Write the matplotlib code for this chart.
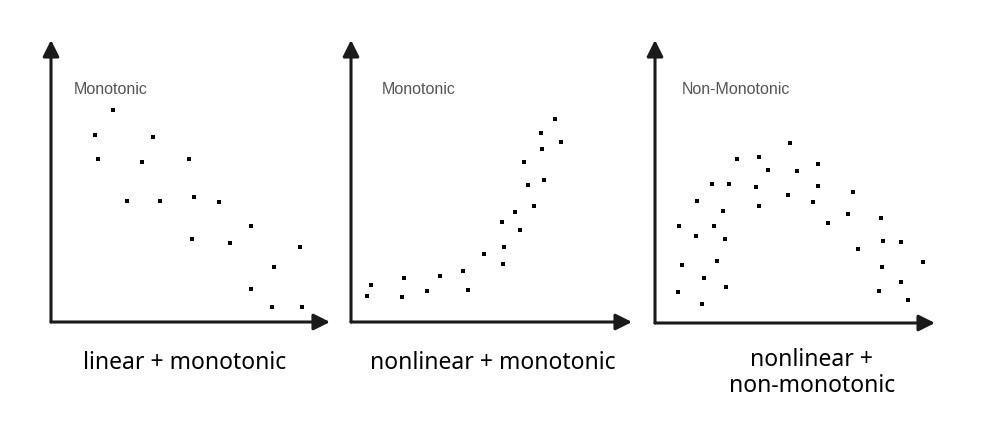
import matplotlib
matplotlib.use("Agg")
import matplotlib.pyplot as plt

# dot positions, in axis units (1 unit ~ 1 px from the origin)
lin_x = [62, 44, 102, 47, 91, 138, 76, 109, 143, 168, 200, 141, 179, 249, 223, 200, 221, 251]
lin_y = [212, 187, 185, 163, 160, 163, 121, 121, 125, 120, 96, 83, 79, 75, 55, 33, 15, 15]

mono_x = [20, 16, 53, 51, 76, 89, 112, 117, 133, 152, 153, 151, 164, 169, 183, 177, 193,
          173, 191, 190, 210, 204]
mono_y = [37, 26, 44, 25, 31, 46, 51, 32, 68, 58, 75, 100, 110, 92, 116, 137, 142,
          160, 173, 189, 180, 203]

non_x = [135, 82, 104, 113, 142, 163, 57, 74, 101, 163, 133, 198, 42, 104, 158, 68, 193,
         24, 59, 173, 226, 41, 70, 203, 228, 246, 62, 27, 227, 268, 49, 71, 246, 23, 224,
         47, 253]
non_y = [180, 164, 166, 153, 152, 159, 139, 139, 136, 137, 128, 131, 122, 117, 121, 112, 109,
         97, 97, 100, 105, 87, 84, 74, 82, 81, 62, 58, 56, 61, 45, 36, 41, 31, 32,
         19, 23]

inner_titles = ["Monotonic", "Monotonic", "Non-Monotonic"]
captions = ["linear + monotonic", "nonlinear + monotonic", "nonlinear +\nnon-monotonic"]

W, H = 982, 430
fig = plt.figure(figsize=(W / 100, H / 100), dpi=100)

# (origin x, origin y, x arrow tip, y arrow tip) in pixels
frames = [(51, 322, 330, 40), (351, 322, 632, 40), (655, 323, 935, 40)]
series = [(lin_x, lin_y), (mono_x, mono_y), (non_x, non_y)]
title_pos = [(23, 232), (31, 232), (27, 233)]
caption_pos = [(185, 363), (493, 363), (812, 373)]

for (ox, oy, tx, ty), (xs, ys), title, (ttx, tty) in zip(frames, series, inner_titles, title_pos):
    ax = fig.add_axes([ox / W, 1 - oy / H, (tx - ox) / W, (oy - ty) / H])
    ax.set_xlim(0, tx - ox)
    ax.set_ylim(0, oy - ty)
    ax.axis("off")
    ax.plot(xs, ys, "s", color="black", ms=2.3, mew=0)
    ax.text(ttx, tty, title, ha="left", va="center", fontsize=11.5,
            family="Liberation Sans", color="#555555")
    arrow = dict(arrowstyle="-|>,head_length=0.7,head_width=0.35", lw=2.2,
                 color="#1a1a1a", shrinkA=0, shrinkB=0, mutation_scale=14)
    ax.annotate("", xy=(1, 0), xytext=(0, 0), xycoords="axes fraction",
                arrowprops=arrow, annotation_clip=False)
    ax.annotate("", xy=(0, 1), xytext=(0, 0), xycoords="axes fraction",
                arrowprops=arrow, annotation_clip=False)

for text, (cx, cy) in zip(captions, caption_pos):
    fig.text(cx / W, 1 - cy / H, text, ha="center", va="center", fontsize=16.5,
             family="Noto Sans", color="black", linespacing=1.1)

fig.savefig("out.png", dpi=100, facecolor="white")
